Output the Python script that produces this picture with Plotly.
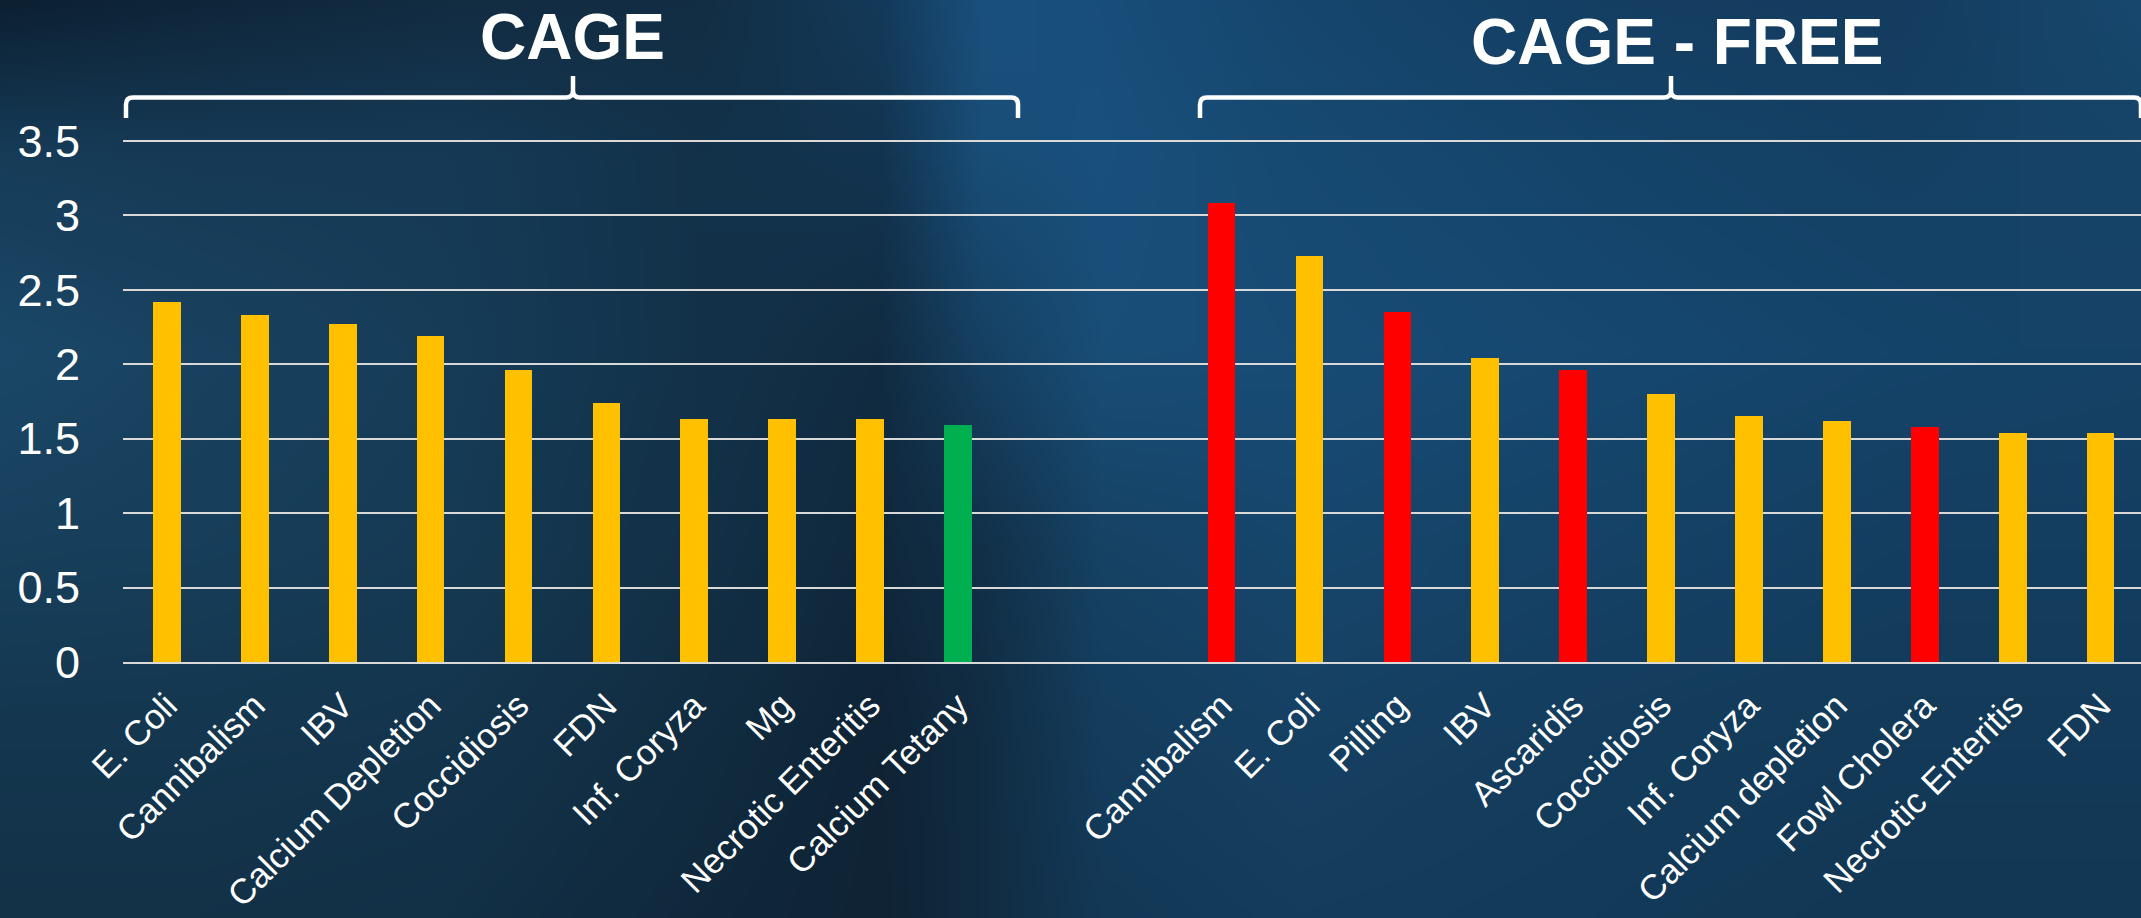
import base64, struct, zlib
import numpy as np
import plotly.graph_objects as go

# ---------------- data ----------------
cage_labels = ["E. Coli", "Cannibalism", "IBV", "Calcium Depletion", "Coccidiosis",
               "FDN", "Inf. Coryza", "Mg", "Necrotic Enteritis", "Calcium Tetany"]
cage_values = [2.42, 2.33, 2.27, 2.19, 1.96, 1.74, 1.63, 1.63, 1.63, 1.59]
cage_level = ["mid", "mid", "mid", "mid", "mid", "mid", "mid", "mid", "mid", "low"]

free_labels = ["Cannibalism", "E. Coli", "Pilling", "IBV", "Ascaridis", "Coccidiosis",
               "Inf. Coryza", "Calcium depletion", "Fowl Cholera", "Necrotic Enteritis", "FDN"]
free_values = [3.08, 2.73, 2.35, 2.04, 1.96, 1.80, 1.65, 1.62, 1.58, 1.54, 1.54]
free_level = ["high", "mid", "high", "mid", "high", "mid", "mid", "mid", "high", "mid", "mid"]

group_titles = ["CAGE", "CAGE - FREE"]
y_ticks = [0, 0.5, 1, 1.5, 2, 2.5, 3, 3.5]

# ---------------- styling ----------------
LEVEL_COLORS = {"mid": "#FFC000", "high": "#FF0000", "low": "#00B050"}
W, H = 2141, 918
ML, MR, MT, MB = 123, 0, 126, 256
GAP = 2  # empty slots between groups
YMAX = 3.6
XMAX = 22.46
FONT = "Arial, 'Liberation Sans', sans-serif"

PW, PH = W - ML - MR, H - MT - MB


def pxx(x):
    return (x - ML) / PW


def pxy(y):
    return (H - MB - y) / PH


cage_x = list(range(len(cage_labels)))
free_x = [len(cage_labels) + GAP + i for i in range(len(free_labels))]

fig = go.Figure()
fig.add_trace(go.Bar(x=cage_x, y=cage_values, width=0.315,
                     marker=dict(color=[LEVEL_COLORS[l] for l in cage_level], line=dict(width=0)),
                     showlegend=False, hoverinfo="skip"))
fig.add_trace(go.Bar(x=free_x, y=free_values, width=0.315,
                     marker=dict(color=[LEVEL_COLORS[l] for l in free_level], line=dict(width=0)),
                     showlegend=False, hoverinfo="skip"))

# ---------------- background image ----------------
cols = [0, 200, 450, 700, 880, 980, 1100, 1300, 1600, 1900, 2141]
rows = [0, 150, 350, 550, 750, 918]
grid = [
    [(12,32,50),(15,38,58),(18,44,66),(18,46,68),(20,58,90),(26,80,125),(24,78,122),(22,70,110),(20,62,98),(20,60,95),(24,72,110)],
    [(22,60,88),(22,58,86),(22,58,86),(19,50,74),(19,52,80),(25,78,120),(25,80,124),(23,74,114),(21,68,106),(20,64,100),(22,68,104)],
    [(27,72,104),(25,66,96),(22,60,88),(19,50,74),(17,44,66),(22,64,98),(25,78,120),(24,76,118),(22,72,112),(21,68,106),(21,66,102)],
    [(23,64,92),(23,62,90),(22,58,84),(19,48,70),(16,40,60),(18,48,72),(22,66,100),(23,70,108),(21,66,102),(20,62,96),(20,62,96)],
    [(20,54,78),(20,54,78),(20,52,76),(17,44,64),(15,36,54),(17,44,66),(20,60,92),(22,64,98),(20,60,92),(19,58,88),(19,58,88)],
    [(19,50,72),(19,50,72),(18,48,70),(16,40,60),(15,35,52),(17,44,66),(19,56,86),(21,60,92),(19,58,88),(18,55,84),(18,55,84)],
]
g = np.array(grid, dtype=float)  # rows x cols x 3
iw, ih = 536, 230
xs = np.linspace(0, W, iw)
ys = np.linspace(0, H, ih)
tmp = np.zeros((len(rows), iw, 3))
for r in range(len(rows)):
    for c in range(3):
        tmp[r, :, c] = np.interp(xs, cols, g[r, :, c])
img = np.zeros((ih, iw, 3))
for c in range(3):
    for i in range(iw):
        img[:, i, c] = np.interp(ys, rows, tmp[:, i, c])
img = np.clip(img, 0, 255).astype(np.uint8)


def png_bytes(a):
    h, w, _ = a.shape
    raw = b"".join(b"\x00" + a[y].tobytes() for y in range(h))

    def chunk(tag, data):
        return (struct.pack(">I", len(data)) + tag + data +
                struct.pack(">I", zlib.crc32(tag + data) & 0xffffffff))
    return (b"\x89PNG\r\n\x1a\n" + chunk(b"IHDR", struct.pack(">IIBBBBB", w, h, 8, 2, 0, 0, 0)) +
            chunk(b"IDAT", zlib.compress(raw, 9)) + chunk(b"IEND", b""))


src = "data:image/png;base64," + base64.b64encode(png_bytes(img)).decode()

# ---------------- braces ----------------
def brace(x0, x1, xm, yb=97.5, ye=118, ytip=76, r=7):
    pts = (f"M {pxx(x0)},{pxy(ye)} L {pxx(x0)},{pxy(yb + r)} "
           f"Q {pxx(x0)},{pxy(yb)} {pxx(x0 + r)},{pxy(yb)} "
           f"L {pxx(xm - r)},{pxy(yb)} Q {pxx(xm)},{pxy(yb)} {pxx(xm)},{pxy(yb - r)} "
           f"L {pxx(xm)},{pxy(ytip)} M {pxx(xm)},{pxy(yb - r)} "
           f"Q {pxx(xm)},{pxy(yb)} {pxx(xm + r)},{pxy(yb)} "
           f"L {pxx(x1 - r)},{pxy(yb)} Q {pxx(x1)},{pxy(yb)} {pxx(x1)},{pxy(yb + r)} "
           f"L {pxx(x1)},{pxy(ye)}")
    return dict(type="path", xref="paper", yref="paper", path=pts,
                line=dict(color="white", width=4.5), layer="above")


shapes = [brace(126, 1018, 573), brace(1200, 2141, 1671)]

annotations = [
    dict(text=f"<b>{group_titles[0]}</b>", x=pxx(572), y=pxy(37), xref="paper", yref="paper",
         showarrow=False, xanchor="center", yanchor="middle",
         font=dict(family=FONT, size=64, color="white")),
    dict(text=f"<b>{group_titles[1]}</b>", x=pxx(1677), y=pxy(42), xref="paper", yref="paper",
         showarrow=False, xanchor="center", yanchor="middle",
         font=dict(family=FONT, size=64, color="white")),
]

fig.update_layout(
    width=W, height=H,
    margin=dict(l=ML, r=MR, t=MT, b=MB, pad=0, autoexpand=False),
    paper_bgcolor="#163c5a",
    plot_bgcolor="rgba(0,0,0,0)",
    bargap=0,
    images=[dict(source=src, xref="paper", yref="paper", x=pxx(0), y=pxy(0),
                 sizex=W / PW, sizey=H / PH, xanchor="left", yanchor="top",
                 sizing="stretch", layer="below")],
    shapes=shapes,
    annotations=annotations,
    xaxis=dict(range=[-0.5, XMAX], tickmode="array", tickvals=cage_x + free_x,
               ticktext=cage_labels + free_labels, tickangle=-45,
               tickfont=dict(family=FONT, size=35, color="white"),
               showgrid=False, zeroline=False, showline=True, linecolor="#d9d9d9",
               linewidth=2, ticks="", ticklabelstandoff=7, fixedrange=True,
               automargin=False),
    yaxis=dict(range=[0, YMAX], tickmode="array", tickvals=y_ticks,
               ticktext=[f"{v:g}" for v in y_ticks],
               tickfont=dict(family=FONT, size=45, color="white"),
               showgrid=True, gridcolor="#d9d9d9", gridwidth=2, zeroline=False,
               showline=False, ticks="", ticklabelstandoff=42, fixedrange=True,
               automargin=False),
)

fig.write_html("out.html", config={"displayModeBar": False})
